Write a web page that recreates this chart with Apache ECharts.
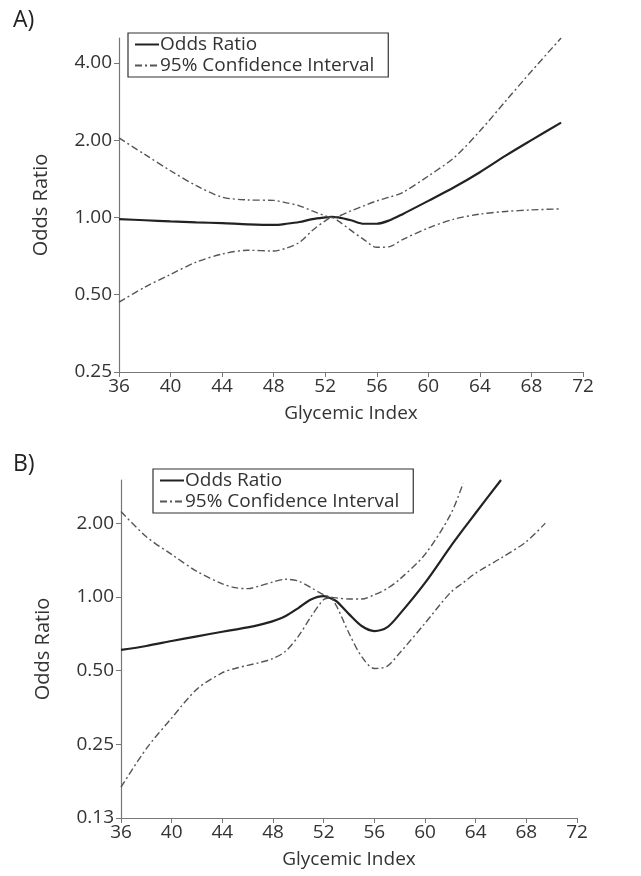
<!DOCTYPE html>
<html>
<head>
<meta charset="utf-8">
<script src="https://cdn.jsdelivr.net/npm/echarts@6/dist/echarts.min.js"></script>
<style>
  html, body { margin: 0; padding: 0; background: #fff; }
  #main { width: 641px; height: 876px; }
</style>
</head>
<body>
<div id="main"></div>
<script>
// panel A
var xA = [36, 38, 40, 42, 44, 46, 48, 49, 50, 51, 52, 52.5, 53, 54, 55, 56, 57, 58, 60, 62, 64, 66, 68, 70.3];
var orA = [0.985, 0.975, 0.965, 0.957, 0.95, 0.94, 0.935, 0.945, 0.96, 0.985, 1.0, 1.005, 1.0, 0.975, 0.945, 0.945, 0.975, 1.03, 1.16, 1.31, 1.5, 1.74, 2.0, 2.34];
var upA = [2.04, 1.76, 1.52, 1.33, 1.2, 1.17, 1.165, 1.14, 1.11, 1.06, 1.015, 1.0, 1.01, 1.06, 1.11, 1.16, 1.2, 1.25, 1.45, 1.71, 2.17, 2.84, 3.71, 5.0];
var loA = [0.468, 0.535, 0.6, 0.67, 0.72, 0.745, 0.74, 0.76, 0.8, 0.89, 0.97, 1.0, 0.97, 0.89, 0.82, 0.765, 0.77, 0.82, 0.91, 0.985, 1.03, 1.055, 1.07, 1.08];

// panel B
var xB = [36, 38, 40, 42, 44, 45, 46, 47, 48, 49, 50, 51, 52, 52.5, 53, 54, 55, 56, 57, 58, 60, 62, 63, 64, 66, 68, 69.5];
var orB = [0.607, 0.63, 0.66, 0.69, 0.72, 0.735, 0.75, 0.77, 0.796, 0.835, 0.9, 0.975, 1.006, 0.99, 0.96, 0.85, 0.76, 0.725, 0.75, 0.85, 1.14, 1.6, 1.88, 2.2, 3.0, null, null];
var upB = [2.23, 1.76, 1.49, 1.27, 1.13, 1.09, 1.08, 1.11, 1.15, 1.18, 1.16, 1.09, 1.02, 1.0, 0.99, 0.98, 0.98, 1.02, 1.08, 1.18, 1.49, 2.16, 2.9, null, null, null, null];
var loB = [0.167, 0.24, 0.32, 0.42, 0.49, 0.51, 0.525, 0.54, 0.56, 0.60, 0.69, 0.83, 0.975, 0.99, 0.92, 0.71, 0.57, 0.51, 0.52, 0.59, 0.78, 1.04, 1.14, 1.25, 1.44, 1.68, 2.0];

function pairs(xs, ys) {
  var out = [];
  for (var i = 0; i < xs.length; i++) {
    if (ys[i] != null) out.push([xs[i], ys[i]]);
  }
  return out;
}

var font = 'Open Sans';
var txt = '#333';
var axisCol = '#777';
var ciStyle = { color: '#555', width: 1.4, type: [7, 3, 2, 3] };
var orStyle = { color: '#222', width: 2.2, type: 'solid' };

function xAx(idx) {
  return {
    type: 'value', gridIndex: idx, min: 36, max: 72, interval: 4,
    name: 'Glycemic Index', nameLocation: 'middle', nameGap: 32,
    nameTextStyle: { fontFamily: font, fontSize: 19, color: txt },
    axisLine: { lineStyle: { color: axisCol, width: 1.2 } },
    axisTick: { show: true, length: 5, lineStyle: { color: axisCol } },
    axisLabel: { fontFamily: font, fontSize: 19, color: txt, margin: 5 },
    splitLine: { show: false }
  };
}

function yAx(idx, mn, mx) {
  return {
    type: 'log', logBase: 2, gridIndex: idx, min: mn, max: mx,
    name: 'Odds Ratio', nameLocation: 'middle', nameGap: 68,
    nameTextStyle: { fontFamily: font, fontSize: 20, color: txt },
    axisLine: { show: true, lineStyle: { color: axisCol, width: 1.2 } },
    axisTick: { show: true, length: 5, lineStyle: { color: axisCol } },
    axisLabel: {
      fontFamily: font, fontSize: 19, color: txt, margin: 7,
      showMaxLabel: false,
      formatter: function (v) { return v.toFixed(2); }
    },
    splitLine: { show: false }
  };
}

function legendBox(left, top) {
  return {
    orient: 'vertical', left: left, top: top, itemGap: 2,
    itemWidth: 24, itemHeight: 12,
    itemStyle: { opacity: 0 },
    borderColor: '#333', borderWidth: 1.2, padding: [2, 14, 2, 6],
    textStyle: { fontFamily: font, fontSize: 19, color: txt, padding: [0, 0, 0, -4] },
    data: ['Odds Ratio', '95% Confidence Interval']
  };
}

function line(name, idx, data, style) {
  return {
    name: name, type: 'line', xAxisIndex: idx, yAxisIndex: idx,
    data: data, symbol: 'none', smooth: 0.3, lineStyle: style,
    itemStyle: { color: style.color }, silent: true, animation: false
  };
}

var chart = echarts.init(document.getElementById('main'));
var option = {
  backgroundColor: '#fff',
  title: [
    { text: 'A)', left: 8, top: 4, textStyle: { fontFamily: font, fontSize: 23, fontWeight: 'normal', color: '#222' } },
    { text: 'B)', left: 8, top: 448, textStyle: { fontFamily: font, fontSize: 23, fontWeight: 'normal', color: '#222' } }
  ],
  grid: [
    { left: 119, right: 58, top: 38, bottom: 504 },
    { left: 121, right: 64, top: 480, bottom: 58 }
  ],
  legend: [legendBox(128, 33), legendBox(153, 469)],
  xAxis: [xAx(0), xAx(1)],
  yAxis: [yAx(0, 0.25, 5), yAx(1, 0.125, 3)],
  series: [
    line('Odds Ratio', 0, pairs(xA, orA), orStyle),
    line('95% Confidence Interval', 0, pairs(xA, upA), ciStyle),
    line('95% Confidence Interval', 0, pairs(xA, loA), ciStyle),
    line('Odds Ratio', 1, pairs(xB, orB), orStyle),
    line('95% Confidence Interval', 1, pairs(xB, upB), ciStyle),
    line('95% Confidence Interval', 1, pairs(xB, loB), ciStyle)
  ]
};
chart.setOption(option);
</script>
</body>
</html>
